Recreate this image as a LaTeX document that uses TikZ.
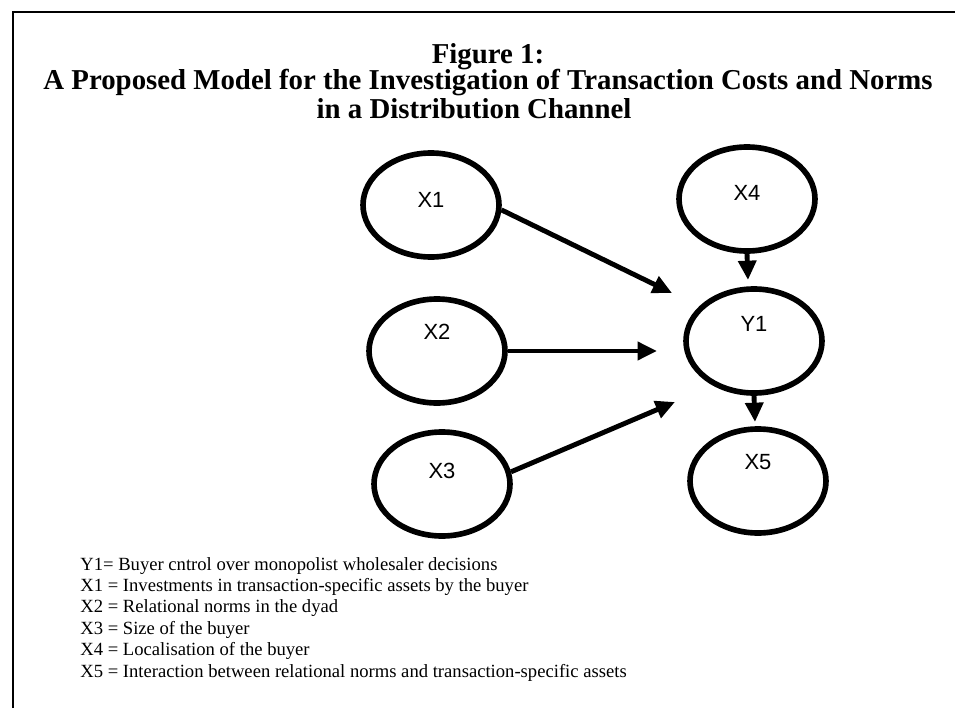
\documentclass[tikz,border=0pt]{standalone}
\usepackage{fontspec}
\setmainfont{Liberation Serif}
\newfontfamily\varfont{Liberation Sans}
\usetikzlibrary{arrows.meta,shapes.geometric}
\tikzset{
	varnode/.style={ellipse,draw,line width=3.2pt,minimum width=2.72cm,minimum height=2.08cm,inner sep=0pt},
	varlabel/.style={font=\varfont\fontsize{12.5}{14}\selectfont,inner sep=0pt},
	effect/.style={line width=2.8pt,-{Triangle[length=11pt,width=10pt]}},
	titleline/.style={font=\bfseries\fontsize{16.4}{18}\selectfont,anchor=base,inner sep=0pt},
	keyline/.style={font=\fontsize{10.6}{12.2}\selectfont,anchor=base west,inner sep=0pt}
}

\begin{document}
\begin{tikzpicture}
	\useasboundingbox (0,0) rectangle (19.1,14.16);
	% frame
	\draw[line width=1.7pt] (0.26,0) -- (0.26,13.92) -- (19.1,13.92);
	% title
	\node[titleline] (title1) at (9.76,12.88) {Figure 1:};
	\node[titleline] (title2) at (9.76,12.36) {A Proposed Model for the Investigation of Transaction Costs and Norms};
	\node[titleline] (title3) at (9.48,11.80) {in a Distribution Channel};
	% variables
	\node[varnode,label={[varlabel,yshift=0.10cm]center:X1}] (x1) at (8.62,10.06) {};
	\node[varnode,label={[varlabel,yshift=0.38cm]center:X2}] (x2) at (8.74,7.14) {};
	\node[varnode,label={[varlabel,yshift=0.26cm]center:X3}] (x3) at (8.84,4.48) {};
	\node[varnode,label={[varlabel,yshift=0.12cm]center:X4}] (x4) at (14.94,10.18) {};
	\node[varnode,label={[varlabel,yshift=0.34cm]center:Y1}] (y1) at (15.08,7.34) {};
	\node[varnode,label={[varlabel,yshift=0.38cm]center:X5}] (x5) at (15.16,4.54) {};
	% arrow ends
	\coordinate (tip1) at (13.44,8.30);
	\coordinate (tip2) at (13.14,7.14);
	\coordinate (tip3) at (13.50,6.12);
	\coordinate (tip4) at (14.96,8.56);
	\coordinate (tip5) at (15.10,5.72);
	\draw[effect] (x1.-4) -- (tip1);
	\draw[effect] (x2.east) -- (tip2);
	\draw[effect] (x3.10) -- (tip3);
	\draw[effect] (x4.south) -- (tip4);
	\draw[effect] (y1.south) -- (tip5);
	% key
	\node[keyline] (keyy1) at (1.6,2.76) {Y1= Buyer cntrol over monopolist wholesaler decisions};
	\node[keyline] (keyx1) at (1.6,2.332) {X1 = Investments in transaction-specific assets by the buyer};
	\node[keyline] (keyx2) at (1.6,1.904) {X2 = Relational norms in the dyad};
	\node[keyline] (keyx3) at (1.6,1.476) {X3 = Size of the buyer};
	\node[keyline] (keyx4) at (1.6,1.048) {X4 = Localisation of the buyer};
	\node[keyline] (keyx5) at (1.6,0.62) {X5 = Interaction between relational norms and transaction-specific assets};
\end{tikzpicture}
\end{document}
